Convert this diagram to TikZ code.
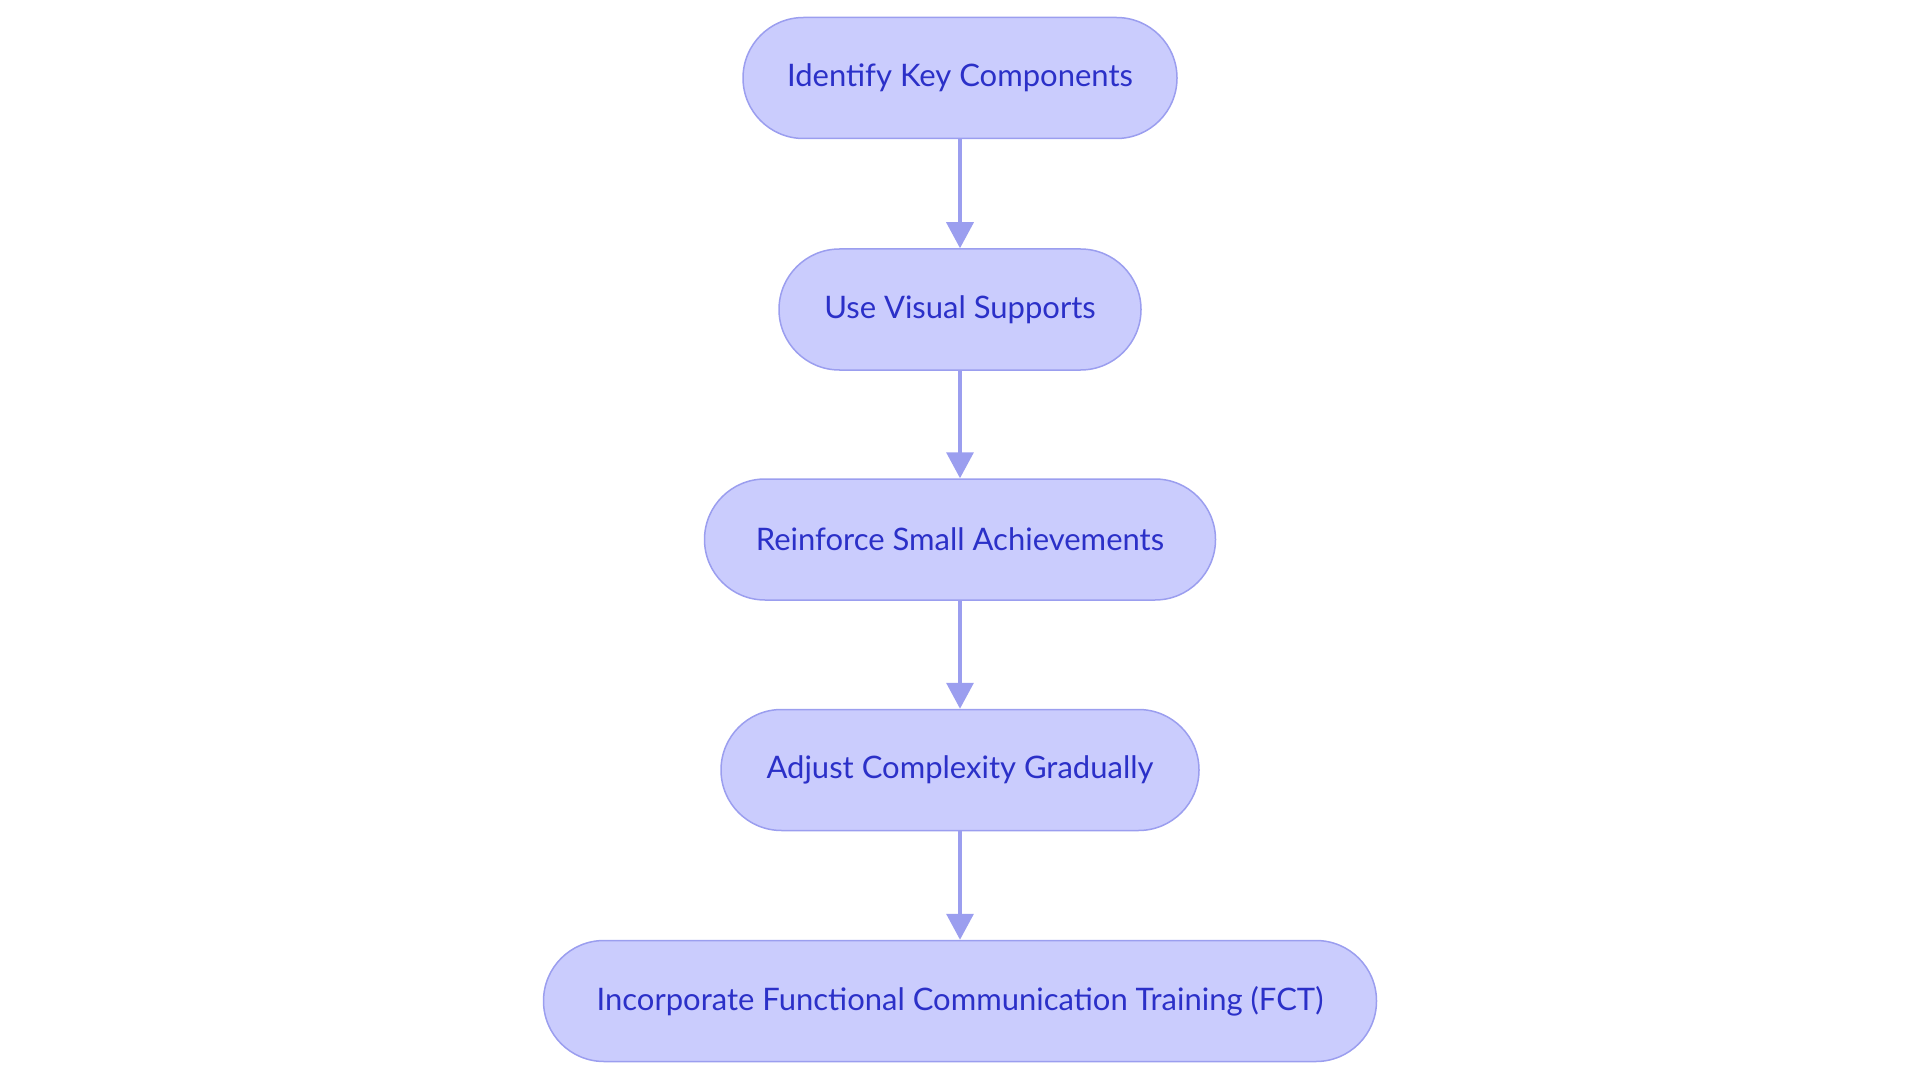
\documentclass[tikz,border=0pt]{standalone}
\usepackage{fontspec}
\setmainfont{Lato}
\usetikzlibrary{arrows.meta}
\definecolor{boxfill}{HTML}{CACCFD}
\definecolor{boxline}{HTML}{9B9EEF}
\definecolor{boxtext}{HTML}{2B30C8}
\tikzset{
  stepbox/.style={draw=boxline, fill=boxfill, line width=1.5pt, rounded corners=60.5pt,
    minimum height=121pt, inner sep=0pt, text=boxtext,
    font=\fontsize{31}{36}\selectfont},
  flow/.style={draw=boxline, line width=3.5pt, -{Triangle[length=26pt,width=27pt]}}
}
\begin{document}
\begin{tikzpicture}[x=1pt,y=-1pt]
\useasboundingbox (0,0) rectangle (1920,1083);
\node[stepbox, minimum width=434pt] (a) at (960,78) {Identify Key Components};
\node[stepbox, minimum width=362pt] (b) at (960,309.5) {Use Visual Supports};
\node[stepbox, minimum width=511pt] (c) at (960,539.5) {Reinforce Small Achievements};
\node[stepbox, minimum width=478pt] (d) at (960,770) {Adjust Complexity Gradually};
\node[stepbox, minimum width=833pt] (e) at (960,1001) {Incorporate Functional Communication Training (FCT)};
\draw[flow] (a) -- (b);
\draw[flow] (b) -- (c);
\draw[flow] (c) -- (d);
\draw[flow] (d) -- (e);
\end{tikzpicture}
\end{document}
